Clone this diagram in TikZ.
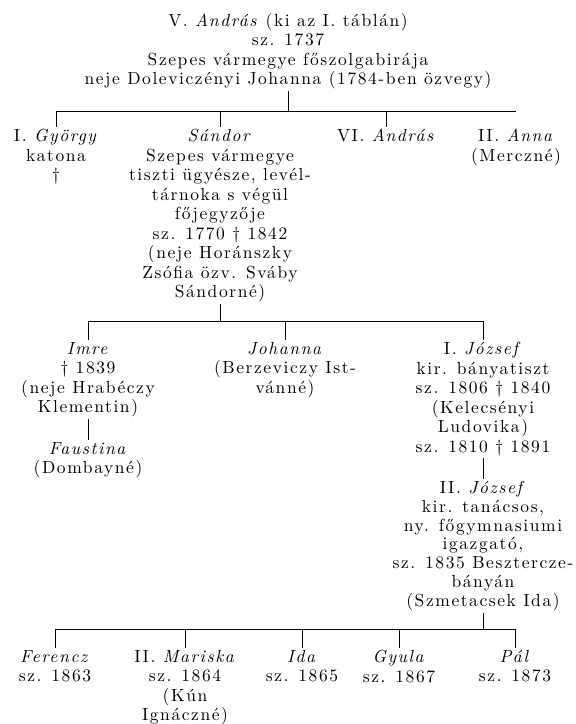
\documentclass[tikz,border=0pt]{standalone}
\usepackage{fontspec}
\setmainfont{lmroman10-regular.otf}[ItalicFont=lmroman10-italic.otf, BoldFont=lmroman10-bold.otf, LetterSpace=9]
\usetikzlibrary{positioning}

\begin{document}
\begin{tikzpicture}[x=1pt, y=-1pt, font=\fontsize{17.5}{19.5}\selectfont,
    person/.style={align=center, anchor=north, inner sep=2pt},
    line/.style={line width=0.6pt}]
    \useasboundingbox (0,0) rectangle (576,724);

    \node[person] (andras5) at (288,11) {V. \textit{András} (ki az I. táblán)\\ sz. 1737\\ Szepes vármegye főszolgabirája\\ neje Doleviczényi Johanna (1784-ben özvegy)};

    \node[person] (gyorgy) at (56,127) {I. \textit{György}\\ katona\\ †};
    \node[person] (sandor) at (220,127) {\textit{Sándor}\\ Szepes vármegye\\ tiszti ügyésze, levél-\\ tárnoka s végül\\ főjegyzője\\ sz. 1770 † 1842\\ (neje Horánszky\\ Zsófia özv. Sváby\\ Sándorné)};
    \node[person] (andras6) at (386,127) {VI. \textit{András}};
    \node[person] (anna) at (516,127) {II. \textit{Anna}\\ (Merczné)};

    \node[person] (imre) at (88,340) {\textit{Imre}\\ † 1839\\ (neje Hrabéczy\\ Klementin)};
    \node[person] (johanna) at (285,340) {\textit{Johanna}\\ (Berzeviczy Ist-\\ vánné)};
    \node[person] (jozsef1) at (483,340) {I. \textit{József}\\ kir. bányatiszt\\ sz. 1806 † 1840\\ (Kelecsényi\\ Ludovika)\\ sz. 1810 † 1891};

    \node[person] (faustina) at (88,440) {\textit{Faustina}\\ (Dombayné)};
    \node[person, font=\fontsize{17.5}{18.8}\selectfont] (jozsef2) at (483,479) {II. \textit{József}\\ kir. tanácsos,\\ ny. főgymnasiumi\\ igazgató,\\ sz. 1835 Besztercze-\\ bányán\\ (Szmetacsek Ida)};

    \node[person] (ferencz) at (55,648) {\textit{Ferencz}\\ sz. 1863};
    \node[person] (mariska) at (185,648) {II. \textit{Mariska}\\ sz. 1864\\ (Kún\\ Ignáczné)};
    \node[person] (ida) at (302,648) {\textit{Ida}\\ sz. 1865};
    \node[person] (gyula) at (399,648) {\textit{Gyula}\\ sz. 1867};
    \node[person] (pal) at (515,648) {\textit{Pál}\\ sz. 1873};

    \coordinate (bar1) at (0,111);
    \coordinate (bar2) at (0,321);
    \coordinate (bar3) at (0,629);

    \draw[line] (andras5.south) -- (andras5.south |- bar1);
    \draw[line] (gyorgy.north |- bar1) -- (anna.north |- bar1);
    \foreach \n in {gyorgy, sandor, andras6}
        \draw[line] (\n.north |- bar1) -- (\n.north);

    \draw[line] (sandor.south) -- (sandor.south |- bar2);
    \draw[line] (imre.north |- bar2) -- (jozsef1.north |- bar2);
    \foreach \n in {imre, johanna, jozsef1}
        \draw[line] (\n.north |- bar2) -- (\n.north);

    \draw[line] (imre.south) -- (faustina.north);
    \draw[line] (jozsef1.south) -- (jozsef2.north);

    \draw[line] (jozsef2.south) -- (jozsef2.south |- bar3);
    \draw[line] (ferencz.north |- bar3) -- (pal.north |- bar3);
    \foreach \n in {ferencz, mariska, ida, gyula, pal}
        \draw[line] (\n.north |- bar3) -- (\n.north);
\end{tikzpicture}
\end{document}
